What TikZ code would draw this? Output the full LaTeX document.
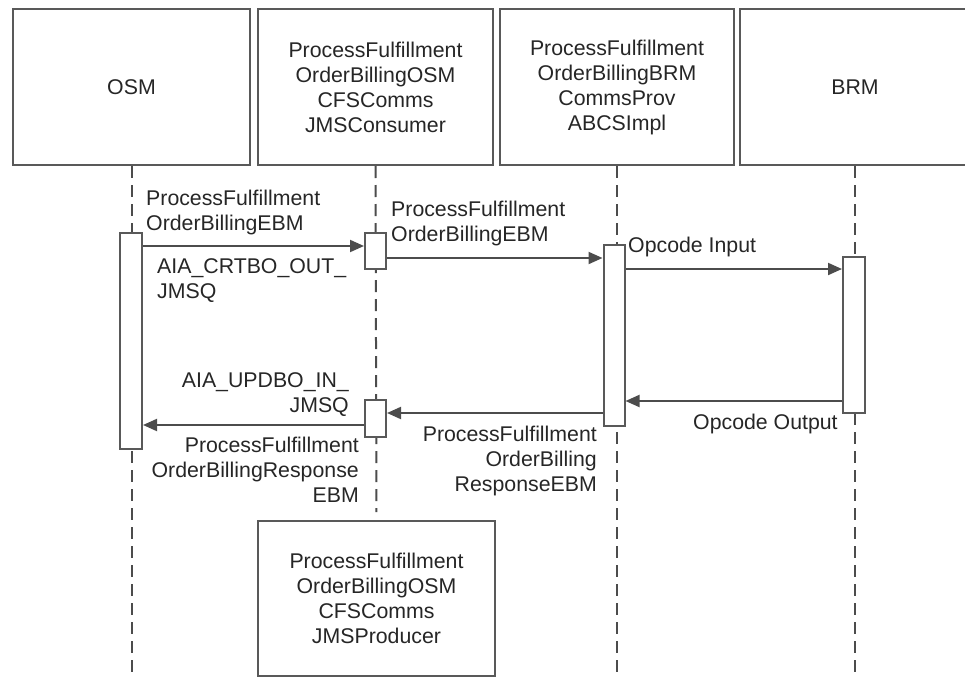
\documentclass[tikz,border=0pt]{standalone}
\usepackage{fontspec}
\setmainfont{Liberation Sans}
\usetikzlibrary{arrows.meta}

\begin{document}
\begin{tikzpicture}[x=1pt, y=-1pt,
    every node/.style={font=\fontsize{21.3}{25}\selectfont, text=black!85},
    actor/.style={rectangle, draw=black!65, line width=2pt, fill=white, align=center, minimum width=235pt, minimum height=156pt},
    bar/.style={rectangle, draw=black!65, line width=2pt, fill=white, minimum width=21pt, inner sep=0pt},
    life/.style={draw=black!70, line width=2pt, dash pattern=on 12pt off 7pt},
    msg/.style={draw=black!70, line width=2pt, -{Triangle[length=14pt,width=12pt]}},
    lbl/.style={inner sep=0pt}]

    \useasboundingbox (0,0) rectangle (965,677);

    % Participants
    \node[actor, minimum width=237pt] (osm) at (131.5,87) {OSM};
    \node[actor] (cons) at (375.5,87) {ProcessFulfillment\\OrderBillingOSM\\CFSComms\\JMSConsumer};
    \node[actor, minimum width=234pt] (abcs) at (617,87) {ProcessFulfillment\\OrderBillingBRM\\CommsProv\\ABCSImpl};
    \node[actor, minimum width=230pt] (brm) at (855,87) {BRM};
    \node[actor, minimum width=237pt, minimum height=155pt] (prod) at (376.5,598.5) {ProcessFulfillment\\OrderBillingOSM\\CFSComms\\JMSProducer};

    % Lifelines
    \coordinate (bot) at (0,680);
    \draw[life] (osm.south) -- (osm.south |- bot);
    \draw[life, shorten >=8pt] (cons.south) -- (prod.north);
    \draw[life] (abcs.south) -- (abcs.south |- bot);
    \draw[life] (brm.south) -- (brm.south |- bot);

    % Activation bars
    \node[bar, minimum width=22pt, minimum height=216pt] (a1) at (131,341) {};
    \node[bar, minimum height=36pt] (a2) at (375.5,251) {};
    \node[bar, minimum height=37pt] (a3) at (375.5,418.5) {};
    \node[bar, minimum height=181pt] (a4) at (614,335.5) {};
    \node[bar, minimum width=22pt, minimum height=156pt] (a5) at (854,335) {};

    % Messages
    \coordinate (y1) at (0,246);
    \coordinate (y2) at (0,258);
    \coordinate (y3) at (0,269);
    \coordinate (y4) at (0,401);
    \coordinate (y5) at (0,413);
    \coordinate (y6) at (0,425);
    \draw[msg] (a1.east |- y1) -- (a2.west |- y1);
    \draw[msg] (a2.east |- y2) -- (a4.west |- y2);
    \draw[msg] (a4.east |- y3) -- (a5.west |- y3);
    \draw[msg] (a5.west |- y4) -- (a4.east |- y4);
    \draw[msg] (a4.west |- y5) -- (a3.east |- y5);
    \draw[msg] (a3.west |- y6) -- (a1.east |- y6);

    % Labels
    \node[lbl, anchor=north west, align=left] (l1) at (146,190) {ProcessFulfillment\\OrderBillingEBM};
    \node[lbl, anchor=north west, align=left] (l2) at (157,258) {AIA\_CRTBO\_OUT\_\\JMSQ};
    \node[lbl, anchor=north west, align=left] (l3) at (391,201) {ProcessFulfillment\\OrderBillingEBM};
    \node[lbl, anchor=north west] (l4) at (628,237) {Opcode Input};
    \node[lbl, anchor=north west] (l5) at (693,414) {Opcode Output};
    \node[lbl, anchor=north east, align=right] (l6) at (349,372) {AIA\_UPDBO\_IN\_\\JMSQ};
    \node[lbl, anchor=north east, align=right] (l7) at (359,437) {ProcessFulfillment\\OrderBillingResponse\\EBM};
    \node[lbl, anchor=north east, align=right] (l8) at (597,426) {ProcessFulfillment\\OrderBilling\\ResponseEBM};
\end{tikzpicture}
\end{document}
